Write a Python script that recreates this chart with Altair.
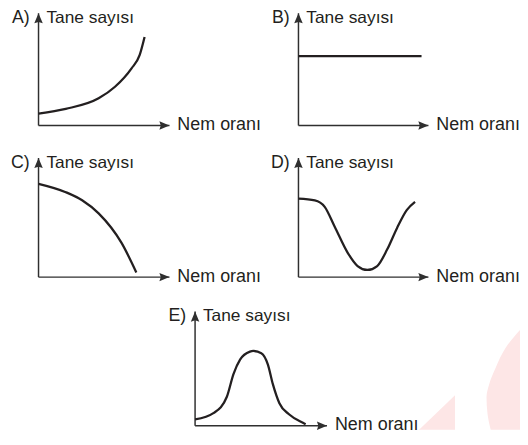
import altair as alt
import pandas as pd

# ---- data (panel-local units: 0..100 along each axis, 100 = arrow tip) ----
a_x = [0, 20.8, 45.9, 58.4, 70.9, 77.2, 81.0]
a_y = [10.6, 14.8, 24.2, 34.5, 50.7, 62.6, 78.8]

b_x = [0, 94.7]
b_y = [61.7, 61.7]

c_x = [0, 20.8, 33.3, 45.9, 63.4, 74.7]
c_y = [78.3, 71.3, 64.5, 53.5, 28.7, 3.9]

d_x = [0, 12.6, 20.2, 27.8, 37.9, 45.5, 53.0, 60.6, 68.2, 75.8, 83.3, 89.7]
d_y = [65.9, 64.5, 59.0, 42.5, 20.4, 9.3, 6.0, 9.3, 23.1, 41.1, 56.2, 63.1]

e_x = [0, 14.2, 24.1, 29.1, 34.1, 41.6, 44.1, 50.2, 55.2, 58.9, 63.9, 71.4, 81.4, 83.8]
e_y = [5.6, 11.3, 25.4, 45.2, 57.9, 64.9, 65.5, 63.6, 53.6, 36.7, 19.8, 9.9, 2.8, 1.4]

letters = ["A)", "B)", "C)", "D)", "E)"]
y_label = "Tane sayısı"
x_label = "Nem oranı"

# ---- layout of the five small panels (page pixels: origin corner, size) ----
MARGIN = 8
W, H = 520, 425
layout = pd.DataFrame({
    "panel": letters,
    "ox": [39, 303, 39, 303, 198],
    "oy": [124, 124, 278, 278, 429],
    "w": [133, 132, 133, 132, 134],
    "h": [114, 114, 121, 121, 116],
})
layout["ox"] -= MARGIN
layout["oy"] -= MARGIN
layout["tip_y"] = layout["oy"] - layout["h"]
layout["tip_x"] = layout["ox"] + layout["w"]
layout["ylab"] = y_label
layout["xlab"] = x_label

series = {"A)": (a_x, a_y), "B)": (b_x, b_y), "C)": (c_x, c_y), "D)": (d_x, d_y), "E)": (e_x, e_y)}
rows = []
for _, p in layout.iterrows():
    xs, ys = series[p["panel"]]
    for i, (xv, yv) in enumerate(zip(xs, ys)):
        rows.append({"panel": p["panel"], "i": i,
                     "px": p["ox"] + xv * p["w"] / 100.0,
                     "py": p["oy"] - yv * p["h"] / 100.0})
curves = pd.DataFrame(rows)

# decorative publisher mark (light pink), page pixels
wm_tri_x = [413, 462]
wm_tri_top = [445, 398]
wm_tri_bottom = [445, 445]
wm_cres_y = [331.7, 350, 370, 386.7, 400, 416.7, 433.3]
wm_cres_left = [528, 513.3, 503.3, 496.7, 494, 495, 498.3]
wm_cres_right = [530, 530, 530, 530, 530, 530, 530]

INK = "#231f20"
AXIS = "#2f2f2f"
PINK = "#fde6e6"
FONT = "Liberation Sans"
ARROW = "M0,0L0.42,1L0,0.86L-0.42,1Z"

sx = alt.Scale(domain=[0, W], nice=False, zero=False)
sy = alt.Scale(domain=[0, H], nice=False, zero=False, reverse=True)


def X(f):
    return alt.X(f, type="quantitative", scale=sx, axis=None)


def Y(f):
    return alt.Y(f, type="quantitative", scale=sy, axis=None)


tri_df = pd.DataFrame({"x": wm_tri_x, "y": wm_tri_top, "y2": wm_tri_bottom}) - MARGIN
tri = alt.Chart(tri_df).mark_area(color=PINK, opacity=1, clip=True).encode(
    x=X("x"), y=Y("y"), y2="y2:Q"
)

cres_df = pd.DataFrame({"y": wm_cres_y, "x": wm_cres_left, "x2": wm_cres_right}) - MARGIN
cres = alt.Chart(cres_df).mark_area(
    color=PINK, opacity=1, orient="horizontal", interpolate="monotone", clip=True
).encode(y=Y("y"), x=X("x"), x2="x2:Q")

base = alt.Chart(layout)

yaxis = base.mark_rule(color=AXIS, strokeWidth=1.5).encode(
    x=X("ox"), y=Y("oy"), y2=alt.Y2("tip_y")
)
xaxis = base.mark_rule(color=AXIS, strokeWidth=1.5).encode(
    x=X("ox"), x2=alt.X2("tip_x"), y=Y("oy")
)
up = base.mark_point(
    shape=ARROW, filled=True, size=420, color=AXIS, opacity=1, strokeWidth=0
).encode(x=X("ox"), y=Y("tip_y"))
right = base.mark_point(
    shape=ARROW, filled=True, size=420, color=AXIS, opacity=1, strokeWidth=0, angle=90
).encode(x=X("tip_x"), y=Y("oy"))

curve = alt.Chart(curves).mark_line(
    color=INK, strokeWidth=2.3, interpolate="monotone"
).encode(x=X("px"), y=Y("py"), detail="panel:N", order="i:Q")

t_letter = base.mark_text(
    align="right", baseline="alphabetic", dx=-9, dy=10,
    fontSize=18, font=FONT, color=INK
).encode(x=X("ox"), y=Y("tip_y"), text="panel:N")
t_y = base.mark_text(
    align="left", baseline="alphabetic", dx=8, dy=10,
    fontSize=17.6, font=FONT, color=INK
).encode(x=X("ox"), y=Y("tip_y"), text="ylab:N")
t_x = base.mark_text(
    align="left", baseline="alphabetic", dx=8, dy=4.5,
    fontSize=18.2, font=FONT, color=INK
).encode(x=X("tip_x"), y=Y("oy"), text="xlab:N")

chart = alt.layer(tri, cres, yaxis, xaxis, curve, up, right, t_letter, t_y, t_x).properties(
    width=W, height=H,
    autosize=alt.AutoSizeParams(type="none"),
    padding=0,
    background="white",
).configure_view(strokeWidth=0, stroke="transparent")

chart.save("out.html", embed_options={"renderer": "svg", "actions": False})
